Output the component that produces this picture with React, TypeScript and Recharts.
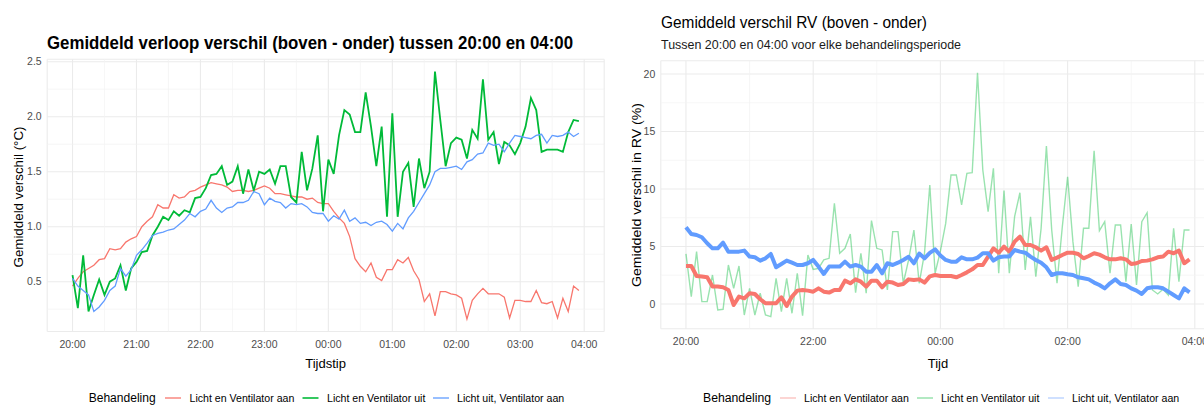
import React from 'react';
import { LineChart, Line, XAxis, YAxis, CartesianGrid, ReferenceLine } from 'recharts';

const FONT = '"Liberation Sans", Arial, Helvetica, sans-serif';

const TIMES = [
  '20:00','20:05','20:10','20:15','20:20','20:25','20:30','20:35','20:40','20:45','20:50','20:55',
  '21:00','21:05','21:10','21:15','21:20','21:25','21:30','21:35','21:40','21:45','21:50','21:55',
  '22:00','22:05','22:10','22:15','22:20','22:25','22:30','22:35','22:40','22:45','22:50','22:55',
  '23:00','23:05','23:10','23:15','23:20','23:25','23:30','23:35','23:40','23:45','23:50','23:55',
  '00:00','00:05','00:10','00:15','00:20','00:25','00:30','00:35','00:40','00:45','00:50','00:55',
  '01:00','01:05','01:10','01:15','01:20','01:25','01:30','01:35','01:40','01:45','01:50','01:55',
  '02:00','02:05','02:10','02:15','02:20','02:25','02:30','02:35','02:40','02:45','02:50','02:55',
  '03:00','03:05','03:10','03:15','03:20','03:25','03:30','03:35','03:40','03:45','03:50','03:55',
];

const SERIES_NAMES = ['Licht en Ventilator aan', 'Licht en Ventilator uit', 'Licht uit, Ventilator aan'];

// Left chart: temperature difference (°C)
const TEMP_RED = [
  0.46,0.53,0.59,0.62,0.65,0.70,0.71,0.80,0.79,0.80,0.86,0.89,
  0.91,1.00,1.05,1.09,1.20,1.17,1.17,1.29,1.26,1.27,1.32,1.33,
  1.36,1.38,1.40,1.39,1.38,1.36,1.32,1.33,1.33,1.32,1.33,1.35,
  1.37,1.35,1.30,1.30,1.29,1.28,1.27,1.27,1.25,1.26,1.22,1.21,
  1.21,1.14,1.08,1.03,0.91,0.71,0.64,0.59,0.67,0.54,0.51,0.61,
  0.61,0.70,0.67,0.72,0.60,0.52,0.32,0.39,0.19,0.41,0.41,0.39,
  0.38,0.35,0.16,0.33,0.39,0.44,0.39,0.39,0.39,0.36,0.17,0.33,
  0.33,0.32,0.32,0.42,0.31,0.30,0.32,0.17,0.35,0.23,0.46,0.42,
];
const TEMP_GREEN = [
  0.56,0.26,0.74,0.23,0.38,0.52,0.38,0.50,0.53,0.65,0.42,0.62,
  0.68,0.77,0.78,0.92,1.00,1.09,1.06,1.14,1.10,1.15,1.13,1.26,
  1.27,1.35,1.47,1.48,1.55,1.38,1.41,1.55,1.30,1.52,1.33,1.50,
  1.48,1.52,1.39,1.55,1.55,1.27,1.22,1.68,1.33,1.53,1.83,1.14,
  1.61,1.48,1.83,2.06,2.02,1.86,1.86,2.22,1.91,1.55,1.91,1.09,
  2.03,1.09,1.50,1.58,1.18,1.62,1.35,1.50,2.41,1.97,1.55,1.76,
  1.81,1.79,1.62,1.88,1.80,2.34,1.79,1.86,1.57,1.77,1.74,1.66,
  1.76,1.91,2.17,2.06,1.68,1.70,1.70,1.70,1.68,1.86,1.97,1.96,
];
const TEMP_BLUE = [
  0.53,0.46,0.42,0.38,0.23,0.27,0.33,0.42,0.46,0.62,0.55,0.61,
  0.74,0.79,0.85,0.92,0.94,0.95,0.97,0.98,1.02,1.06,1.12,1.09,
  1.14,1.16,1.24,1.17,1.13,1.17,1.18,1.22,1.22,1.24,1.32,1.30,
  1.20,1.26,1.23,1.22,1.17,1.21,1.20,1.21,1.18,1.13,1.12,1.12,
  1.05,1.10,1.07,1.15,1.05,1.08,1.03,1.04,1.01,1.04,1.05,1.02,
  0.96,1.03,0.98,1.08,1.14,1.22,1.30,1.38,1.50,1.53,1.53,1.54,
  1.55,1.52,1.59,1.61,1.66,1.67,1.76,1.74,1.75,1.68,1.76,1.83,
  1.82,1.81,1.80,1.83,1.84,1.76,1.83,1.82,1.83,1.86,1.82,1.85,
];

// Right chart: RH difference (%)
const RV_RED = [
  3.30,3.30,2.43,2.38,2.32,1.51,1.51,1.45,1.22,-0.09,0.64,0.49,
  0.93,0.87,0.41,0.06,0.06,0.06,0.58,-0.17,0.64,1.16,1.22,1.16,
  1.07,1.36,1.07,0.99,1.22,1.22,2.03,1.80,2.14,1.94,1.51,2.03,
  2.03,1.45,1.94,1.86,1.65,1.74,2.14,2.09,2.14,1.86,2.40,2.52,
  2.43,2.43,2.43,2.32,2.52,2.75,3.01,3.39,3.39,4.12,4.84,4.46,
  4.99,4.55,5.42,5.86,5.13,5.13,4.93,4.64,4.93,3.83,4.03,4.26,
  4.46,4.46,4.35,3.97,4.17,4.41,4.29,4.06,3.88,3.88,3.97,3.88,
  3.48,3.54,3.74,3.77,3.88,4.06,4.12,4.55,4.41,4.64,3.54,3.88,
];
const RV_GREEN = [
  4.35,0.64,4.55,0.20,0.20,2.52,-0.52,-0.46,3.39,1.36,3.30,-0.96,
  1.36,-0.96,0.93,-0.96,-1.10,2.23,-0.67,2.23,-0.81,2.67,-1.01,4.26,
  3.01,3.10,3.83,3.97,8.75,4.41,4.84,6.09,0.99,4.41,0.93,7.25,
  4.84,4.70,1.22,6.29,6.29,1.80,3.83,6.43,1.80,4.41,10.35,2.67,
  4.60,7.01,11.22,11.22,8.61,11.36,11.42,20.10,11.65,8.03,11.80,2.67,
  9.86,2.67,7.59,9.68,2.96,7.59,2.38,6.58,13.74,6.43,1.80,6.72,
  11.07,5.42,1.51,6.58,6.58,13.33,6.38,7.16,2.67,6.87,6.87,1.94,
  6.96,1.65,7.16,7.94,1.22,0.87,1.28,0.78,6.58,1.94,6.43,6.43,
];
const RV_BLUE = [
  6.67,6.09,6.00,5.80,5.28,4.84,4.84,5.33,4.55,4.55,4.55,4.64,
  4.12,4.06,3.77,3.97,4.35,3.19,3.48,3.77,3.59,3.39,3.39,3.54,
  3.83,3.25,2.61,3.25,3.25,3.25,3.68,3.25,3.39,3.25,2.81,2.81,
  3.39,2.67,3.54,3.39,3.59,3.83,4.10,3.54,4.38,3.97,4.45,4.75,
  4.22,3.83,3.68,3.68,4.06,3.88,3.88,4.03,4.41,4.41,3.77,4.06,
  4.12,4.12,4.70,4.55,4.46,4.12,3.83,3.59,3.19,2.52,2.67,2.67,
  2.58,2.52,2.32,2.23,2.14,1.86,1.65,1.36,1.80,2.14,1.74,1.65,
  1.36,1.16,0.87,1.36,1.45,1.45,1.36,1.07,0.78,0.49,1.36,1.01,
];

const LEFT_X_TICKS = ['20:00','21:00','22:00','23:00','00:00','01:00','02:00','03:00','04:00'];
const LEFT_X_MINOR = ['20:30','21:30','22:30','23:30','00:30','01:30','02:30','03:30'];
const RIGHT_X_TICKS = ['20:00','22:00','00:00','02:00','04:00'];
const RIGHT_X_MINOR = ['21:00','23:00','01:00','03:00'];
const LEFT_Y_TICKS = [0.5, 1.0, 1.5, 2.0, 2.5];
const LEFT_Y_MINOR = [0.25, 0.75, 1.25, 1.75, 2.25];
const RIGHT_Y_TICKS = [0, 5, 10, 15, 20];
const RIGHT_Y_MINOR = [2.5, 7.5, 12.5, 17.5];

const RED = '#F8766D';
const GREEN = '#00BA38';
const BLUE = '#619CFF';
const GRID = '#EBEBEB';
const GRID_MINOR = '#F2F2F2';
const TICK_COLOR = '#4D4D4D';

// minutes since 20:00
function toMin(t: string): number {
  const [h, m] = t.split(':').map(Number);
  const hh = h < 12 ? h + 24 : h;
  return (hh - 20) * 60 + m;
}
function fromMin(v: number): string {
  const total = (20 * 60 + v) % (24 * 60);
  const h = Math.floor(total / 60);
  const m = Math.round(total % 60);
  return `${String(h).padStart(2, '0')}:${String(m).padStart(2, '0')}`;
}

const tempData = TIMES.map((t, i) => ({ m: toMin(t), red: TEMP_RED[i], green: TEMP_GREEN[i], blue: TEMP_BLUE[i] }));
const rvData = TIMES.map((t, i) => ({ m: toMin(t), red: RV_RED[i], green: RV_GREEN[i], blue: RV_BLUE[i] }));

const X_DOMAIN: [number, number] = [-23.75, 498.75];
const tickStyle = { fontSize: 10.5, fill: TICK_COLOR, fontFamily: FONT };

function LeftChart() {
  return (
    <LineChart width={610} height={405} data={tempData} margin={{ top: 59.2, right: 5.8, bottom: 0, left: 0 }}>
      <CartesianGrid stroke={GRID} strokeWidth={1.1} />
      {LEFT_Y_MINOR.map((v) => (
        <ReferenceLine key={'ly' + v} y={v} stroke={GRID_MINOR} strokeWidth={0.7} />
      ))}
      {LEFT_X_MINOR.map((t) => (
        <ReferenceLine key={'lx' + t} x={toMin(t)} stroke={GRID_MINOR} strokeWidth={0.7} />
      ))}
      <XAxis
        dataKey="m"
        type="number"
        domain={X_DOMAIN}
        ticks={LEFT_X_TICKS.map(toMin)}
        tickFormatter={fromMin}
        interval={0}
        axisLine={false}
        tickLine={false}
        tickSize={0}
        tickMargin={9}
        height={73.5}
        tick={tickStyle}
      />
      <YAxis
        type="number"
        domain={[0.0475, 2.5225]}
        ticks={LEFT_Y_TICKS}
        tickFormatter={(v: number) => v.toFixed(1)}
        interval={0}
        axisLine={false}
        tickLine={false}
        tickSize={0}
        tickMargin={5.5}
        width={47.2}
        tick={tickStyle}
      />
      <Line dataKey="red" name={SERIES_NAMES[0]} stroke={RED} strokeWidth={1.3} dot={false} isAnimationActive={false} />
      <Line dataKey="green" name={SERIES_NAMES[1]} stroke={GREEN} strokeWidth={1.8} dot={false} isAnimationActive={false} />
      <Line dataKey="blue" name={SERIES_NAMES[2]} stroke={BLUE} strokeWidth={1.3} dot={false} isAnimationActive={false} />
    </LineChart>
  );
}

function RightChart() {
  return (
    <LineChart width={620} height={405} data={rvData} margin={{ top: 60.7, right: 15.3, bottom: 0, left: 0 }}>
      <CartesianGrid stroke={GRID} strokeWidth={1.1} />
      {RIGHT_Y_MINOR.map((v) => (
        <ReferenceLine key={'ry' + v} y={v} stroke={GRID_MINOR} strokeWidth={0.7} />
      ))}
      {RIGHT_X_MINOR.map((t) => (
        <ReferenceLine key={'rx' + t} x={toMin(t)} stroke={GRID_MINOR} strokeWidth={0.7} />
      ))}
      <XAxis
        dataKey="m"
        type="number"
        domain={X_DOMAIN}
        ticks={RIGHT_X_TICKS.map(toMin)}
        tickFormatter={fromMin}
        interval={0}
        axisLine={false}
        tickLine={false}
        tickSize={0}
        tickMargin={9}
        height={76.2}
        tick={tickStyle}
      />
      <YAxis
        type="number"
        domain={[-2.16, 21.16]}
        ticks={RIGHT_Y_TICKS}
        interval={0}
        axisLine={false}
        tickLine={false}
        tickSize={0}
        tickMargin={5.5}
        width={50.8}
        tick={tickStyle}
      />
      <Line dataKey="green" name={SERIES_NAMES[1]} stroke={GREEN} strokeOpacity={0.4} strokeWidth={1.4} dot={false} isAnimationActive={false} />
      <Line dataKey="red" name={SERIES_NAMES[0]} stroke={RED} strokeWidth={4} dot={false} isAnimationActive={false} strokeLinejoin="round" />
      <Line dataKey="blue" name={SERIES_NAMES[2]} stroke={BLUE} strokeWidth={4} dot={false} isAnimationActive={false} strokeLinejoin="round" />
    </LineChart>
  );
}

function Overlay() {
  const t = { fontFamily: FONT };
  return (
    <svg width={1204} height={405} style={{ position: 'absolute', left: 0, top: 0, pointerEvents: 'none' }}>
      {/* Left titles */}
      <text x={47} y={49.3} fontSize={17.5} fontWeight="bold" fill="#000" textLength={526} lengthAdjust="spacingAndGlyphs" style={t}>
        Gemiddeld verloop verschil (boven - onder) tussen 20:00 en 04:00
      </text>
      <text x={325.6} y={368} fontSize={13} textAnchor="middle" fill="#000" style={t}>Tijdstip</text>
      <text transform="translate(23,197) rotate(-90)" fontSize={13.5} textAnchor="middle" fill="#000" textLength={141} lengthAdjust="spacingAndGlyphs" style={t}>
        Gemiddeld verschil (°C)
      </text>
      {/* Left legend */}
      <text x={88.7} y={402} fontSize={12.5} fill="#000" textLength={67} lengthAdjust="spacingAndGlyphs" style={t}>Behandeling</text>
      <line x1={165} x2={181} y1={398} y2={398} stroke={RED} strokeWidth={1.3} />
      <text x={189.5} y={402} fontSize={10.6} fill="#000" style={t}>{SERIES_NAMES[0]}</text>
      <line x1={302.5} x2={318.5} y1={398} y2={398} stroke={GREEN} strokeWidth={1.6} />
      <text x={327} y={402} fontSize={10.6} fill="#000" style={t}>{SERIES_NAMES[1]}</text>
      <line x1={433} x2={449} y1={398} y2={398} stroke={BLUE} strokeWidth={1.3} />
      <text x={457} y={402} fontSize={10.6} fill="#000" style={t}>{SERIES_NAMES[2]}</text>

      {/* Right titles */}
      <text x={661} y={28.3} fontSize={16.5} fill="#000" textLength={266} lengthAdjust="spacingAndGlyphs" style={t}>
        Gemiddeld verschil RV (boven - onder)
      </text>
      <text x={661} y={49.3} fontSize={12.5} fill="#1a1a1a" textLength={300} lengthAdjust="spacingAndGlyphs" style={t}>
        Tussen 20:00 en 04:00 voor elke behandelingsperiode
      </text>
      <text x={938} y={368} fontSize={13} textAnchor="middle" fill="#000" style={t}>Tijd</text>
      <text transform="translate(640.7,195) rotate(-90)" fontSize={13.5} textAnchor="middle" fill="#000" textLength={184} lengthAdjust="spacingAndGlyphs" style={t}>
        Gemiddeld verschil in RV (%)
      </text>
      {/* Right legend */}
      <text x={703} y={402} fontSize={12.5} fill="#000" textLength={68} lengthAdjust="spacingAndGlyphs" style={t}>Behandeling</text>
      <line x1={780} x2={796} y1={398} y2={398} stroke={RED} strokeOpacity={0.5} strokeWidth={1.2} />
      <text x={804} y={402} fontSize={10.6} fill="#000" style={t}>{SERIES_NAMES[0]}</text>
      <line x1={917} x2={933} y1={398} y2={398} stroke={GREEN} strokeOpacity={0.5} strokeWidth={1.2} />
      <text x={941} y={402} fontSize={10.6} fill="#000" style={t}>{SERIES_NAMES[1]}</text>
      <line x1={1048} x2={1064} y1={398} y2={398} stroke={BLUE} strokeOpacity={0.5} strokeWidth={1.2} />
      <text x={1072} y={402} fontSize={10.6} fill="#000" style={t}>{SERIES_NAMES[2]}</text>
    </svg>
  );
}

export default function App() {
  return (
    <div style={{ position: 'fixed', left: 0, top: 0, width: 1204, height: 405, overflow: 'hidden', background: '#fff', fontFamily: FONT }}>
      <div style={{ position: 'absolute', left: 0, top: 0 }}>
        <LeftChart />
      </div>
      <div style={{ position: 'absolute', left: 610, top: 0 }}>
        <RightChart />
      </div>
      <Overlay />
    </div>
  );
}
